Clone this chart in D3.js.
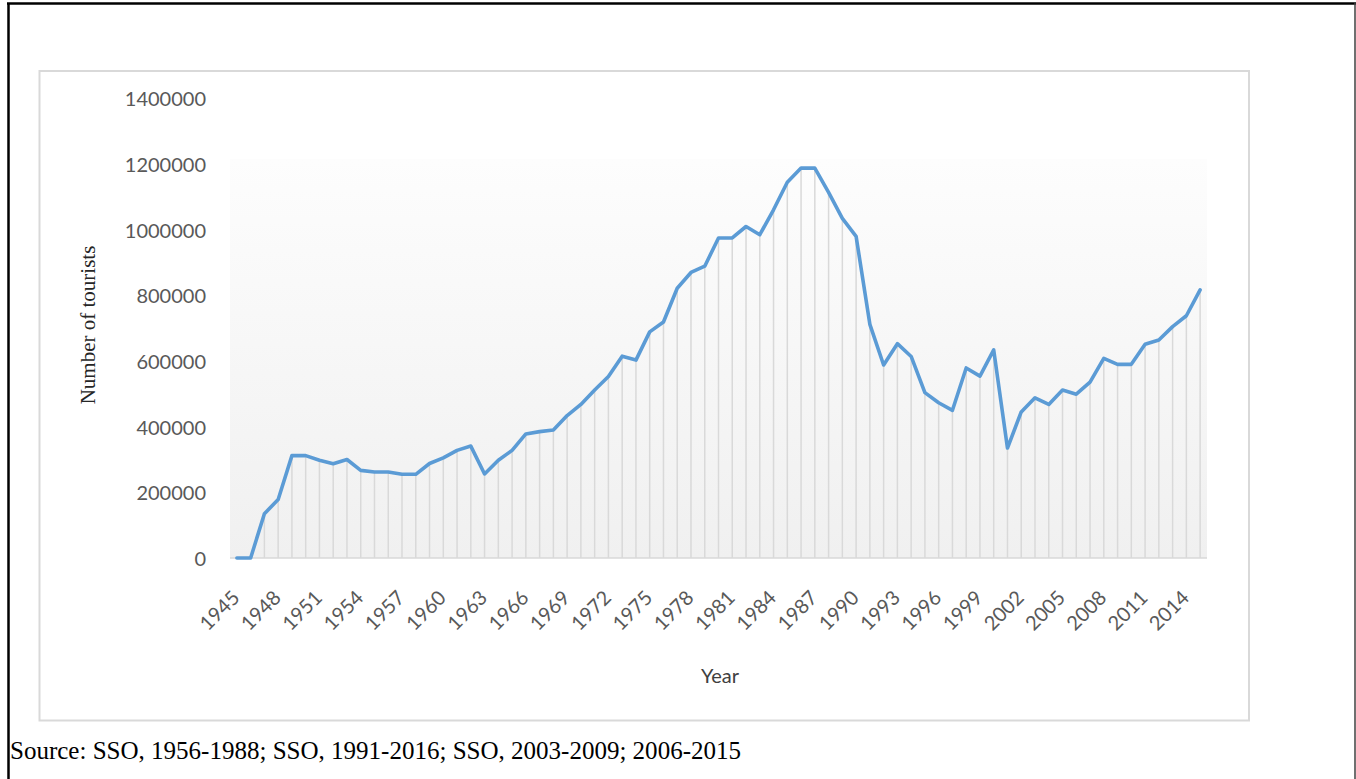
<!DOCTYPE html>
<html>
<head>
<meta charset="utf-8">
<script src="https://cdn.jsdelivr.net/npm/d3@7"></script>
<style>
  body { margin: 0; background: #fff; }
  svg { display: block; }
</style>
</head>
<body>
<script>
// years 1945..2015 and visitors per year
var years = [1945,1946,1947,1948,1949,1950,1951,1952,1953,1954,1955,1956,1957,1958,1959,1960,
  1961,1962,1963,1964,1965,1966,1967,1968,1969,1970,1971,1972,1973,1974,1975,1976,1977,1978,
  1979,1980,1981,1982,1983,1984,1985,1986,1987,1988,1989,1990,1991,1992,1993,1994,1995,1996,
  1997,1998,1999,2000,2001,2002,2003,2004,2005,2006,2007,2008,2009,2010,2011,2012,2013,2014,2015];
var tourists = [0,0,135000,178000,312000,312000,298000,287000,300000,267000,262000,262000,255000,255000,
  288000,305000,328000,341000,256000,298000,328000,378000,385000,390000,434000,468000,512000,553000,
  615000,603000,689000,719000,822000,870000,889000,975000,975000,1010000,985000,1061000,1145000,
  1188000,1188000,1114000,1035000,980000,712000,588000,653000,614000,504000,473000,450000,579000,
  554000,634000,335000,445000,488000,468000,512000,499000,536000,608000,590000,590000,651000,
  664000,705000,738000,817000];
var yTicks = [0,200000,400000,600000,800000,1000000,1200000,1400000];
var xTickYears = [1945,1948,1951,1954,1957,1960,1963,1966,1969,1972,1975,1978,1981,1984,1987,
  1990,1993,1996,1999,2002,2005,2008,2011,2014];
var sourceText = "Source: SSO, 1956-1988; SSO, 1991-2016; SSO, 2003-2009; 2006-2015";

var W = 1356, H = 779;
var svg = d3.select("body").append("svg").attr("width", W).attr("height", H);

// outer frame of the page figure
svg.append("line").attr("x1", 7).attr("y1", 3.5).attr("x2", 1356).attr("y2", 3.5)
  .attr("stroke", "#000").attr("stroke-width", 2.5);
svg.append("line").attr("x1", 8.5).attr("y1", 3).attr("x2", 8.5).attr("y2", 779)
  .attr("stroke", "#000").attr("stroke-width", 2.5);
svg.append("line").attr("x1", 1355).attr("y1", 3).attr("x2", 1355).attr("y2", 779)
  .attr("stroke", "#404040").attr("stroke-width", 1.5);

// chart box
svg.append("rect").attr("x", 39.5).attr("y", 71).attr("width", 1209.5).attr("height", 649.5)
  .attr("fill", "#fff").attr("stroke", "#d9d9d9").attr("stroke-width", 2);

var plotL = 230, plotR = 1207, plotTop = 159;
var x = d3.scalePoint().domain(years).range([plotL, plotR]).padding(0.5);
var y = d3.scaleLinear().domain([0, 1400000]).range([558, 98.5]);

var grad = svg.append("defs").append("linearGradient").attr("id", "bg")
  .attr("x1", 0).attr("y1", 0).attr("x2", 0).attr("y2", 1);
grad.append("stop").attr("offset", "0%").attr("stop-color", "#fdfdfd");
grad.append("stop").attr("offset", "100%").attr("stop-color", "#f0f0f0");

svg.append("rect").attr("x", plotL).attr("y", plotTop)
  .attr("width", plotR - plotL).attr("height", y(0) - plotTop).attr("fill", "url(#bg)");

// drop lines
svg.append("g").selectAll("line")
  .data(years.map(function (d, i) { return {year: d, v: tourists[i]}; }))
  .enter().append("line")
  .attr("x1", function (d) { return x(d.year); })
  .attr("x2", function (d) { return x(d.year); })
  .attr("y1", function (d) { return y(d.v); })
  .attr("y2", y(0))
  .attr("stroke", "#d9d9d9").attr("stroke-width", 1.5);

// category axis line
svg.append("line").attr("x1", plotL).attr("x2", plotR).attr("y1", y(0)).attr("y2", y(0))
  .attr("stroke", "#d9d9d9").attr("stroke-width", 1.5);

// series line
var line = d3.line()
  .x(function (d, i) { return x(years[i]); })
  .y(function (d) { return y(d); });
svg.append("path").datum(tourists)
  .attr("d", line).attr("fill", "none")
  .attr("stroke", "#5b9bd5").attr("stroke-width", 3.6)
  .attr("stroke-linejoin", "round").attr("stroke-linecap", "round");

// value axis labels
var yAxis = svg.append("g").attr("transform", "translate(206,1)")
  .call(d3.axisLeft(y).tickValues(yTicks).tickSize(0).tickPadding(0).tickFormat(d3.format("d")));
yAxis.select(".domain").remove();
yAxis.selectAll("text").attr("font-family", "Lato, sans-serif").attr("font-size", 20)
  .attr("fill", "#595959");

// year labels, rotated
svg.append("g").selectAll("text")
  .data(xTickYears).enter().append("text")
  .attr("transform", function (d) { return "translate(" + (x(d) + 4) + ",599) rotate(-45)"; })
  .attr("text-anchor", "end")
  .attr("font-family", "Lato, sans-serif").attr("font-size", 20)
  .attr("fill", "#595959")
  .text(function (d) { return d; });

// axis titles
svg.append("text").attr("x", 720).attr("y", 683).attr("text-anchor", "middle")
  .attr("font-family", "Lato, sans-serif").attr("font-size", 20).attr("fill", "#404040")
  .text("Year");
svg.append("text").attr("transform", "translate(95,325) rotate(-90)").attr("text-anchor", "middle")
  .attr("font-family", "'Liberation Serif', serif").attr("font-size", 21).attr("fill", "#262626")
  .text("Number of tourists");

// source note
svg.append("text").attr("x", 10).attr("y", 759)
  .attr("font-family", "'Liberation Serif', serif").attr("font-size", 25).attr("fill", "#000")
  .attr("textLength", 731).attr("lengthAdjust", "spacingAndGlyphs")
  .text(sourceText);
</script>
</body>
</html>
